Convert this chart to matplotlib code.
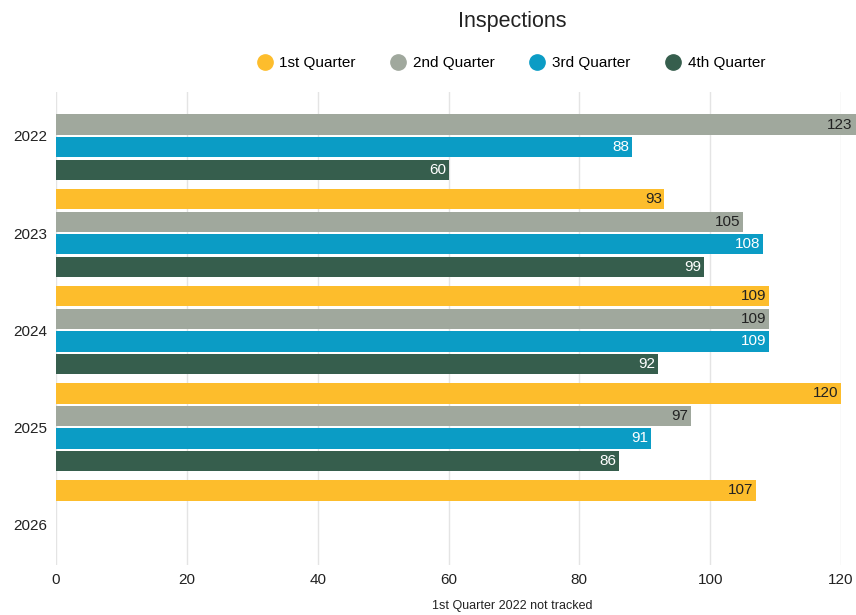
import matplotlib
matplotlib.use("Agg")
import matplotlib.pyplot as plt
from matplotlib.lines import Line2D
import numpy as np

plt.rcParams['font.family'] = ['Liberation Sans', 'DejaVu Sans']

years = ["2022", "2023", "2024", "2025", "2026"]
quarters = ["1st Quarter", "2nd Quarter", "3rd Quarter", "4th Quarter"]
q1 = [None, 93, 109, 120, 107]
q2 = [123, 105, 109, 97, None]
q3 = [88, 108, 109, 91, None]
q4 = [60, 99, 92, 86, None]
series = [q1, q2, q3, q4]
colors = ["#FDBD2C", "#A0A89D", "#0B9CC5", "#365E4D"]
label_colors = ["#222222", "#222222", "#FFFFFF", "#FFFFFF"]
xticks = [0, 20, 40, 60, 80, 100, 120]

fig = plt.figure(figsize=(8.56, 6.15), dpi=100)
ax = fig.add_axes([0.0654, 0.0813, 0.9171, 0.7687])

bar_h = 0.21
step = 0.232
offsets = (np.arange(4) - 1.5) * step
ypos = np.arange(len(years))

# keep value labels inside the figure for bars running past the axis edge
label_limit = 121.8

for i, (vals, c, lc) in enumerate(zip(series, colors, label_colors)):
    for j, v in enumerate(vals):
        if v is None:
            continue
        y = ypos[j] + offsets[i]
        ax.barh(y, v, height=bar_h, color=c, clip_on=False, zorder=2)
        ax.text(min(v - 0.4, label_limit), y, str(v), ha='right', va='center',
                fontsize=11, color=lc, zorder=3, clip_on=False)

ax.set_xlim(0, 120)
ax.set_ylim(len(years) - 0.58, -0.45)
ax.set_yticks(ypos)
ax.set_yticklabels(years, fontsize=11, color="#222222")
ax.set_xticks(xticks)
ax.set_xticklabels([str(t) for t in xticks], fontsize=11, color="#222222")
ax.tick_params(length=0, pad=6)
ax.tick_params(axis='y', pad=6)
ax.grid(axis='x', color="#E4E4E4", linewidth=1, zorder=0)
for s in ax.spines.values():
    s.set_visible(False)

fig.text(0.598, 0.965, "Inspections", ha='center', va='center', fontsize=15.5, color="#222222")

handles = [Line2D([0], [0], marker='o', linestyle='', markersize=11,
                  markerfacecolor=c, markeredgecolor=c) for c in colors]
fig.legend(handles, quarters, loc='center', bbox_to_anchor=(0.597, 0.897), ncol=4,
           frameon=False, fontsize=11, handletextpad=0.45, columnspacing=2.3,
           handlelength=1.0)

fig.text(0.598, 0.014, "1st Quarter 2022 not tracked", ha='center', va='center',
         fontsize=9, color="#222222")

fig.savefig("out.png", dpi=100)
